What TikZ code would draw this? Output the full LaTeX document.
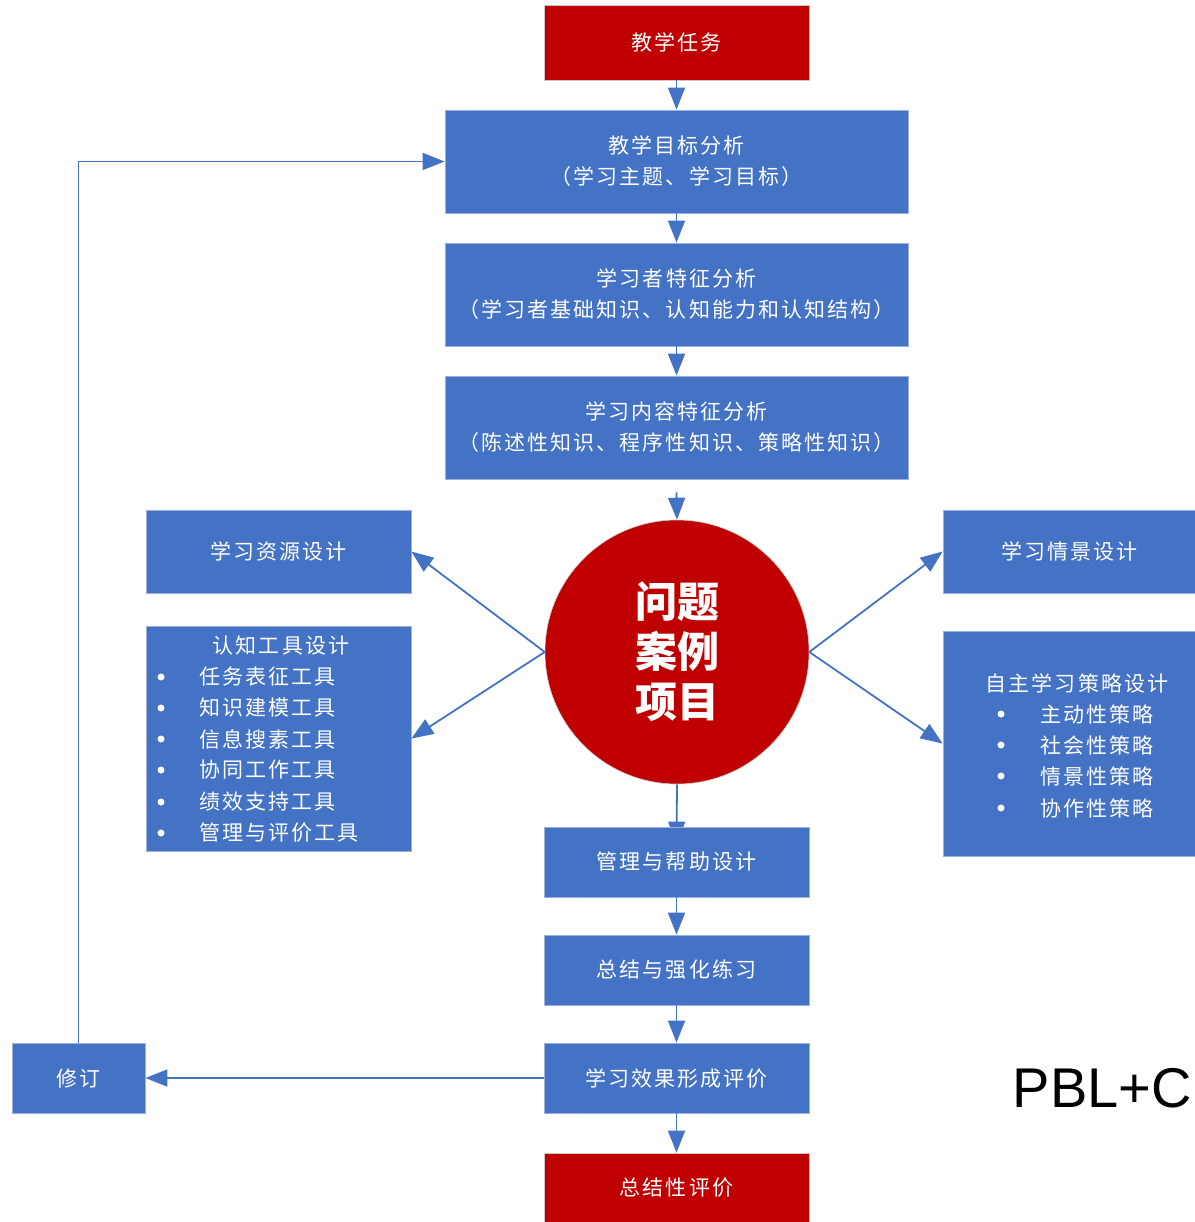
\documentclass[tikz,border=0pt]{standalone}
\usepackage{fontspec}
\setmainfont{Liberation Sans}
\newfontfamily\cjk[LetterSpace=10]{Noto Sans CJK SC}
\newfontfamily\cjkplain{Noto Sans CJK SC}
\usetikzlibrary{arrows.meta,calc,backgrounds}
\definecolor{boxblue}{HTML}{4472C4}
\definecolor{boxred}{HTML}{C00000}
\definecolor{edgeblue}{HTML}{9DB0D8}
\definecolor{edgegray}{HTML}{C8C8C8}
\tikzset{
  bluebox/.style={rectangle, fill=boxblue, draw=edgeblue, line width=0.8pt, text=white, align=center, inner sep=0pt,
    font=\cjk\fontsize{21}{31}\selectfont},
  redbox/.style={bluebox, fill=boxred, draw=edgegray},
  itemtxt/.style={text=white, inner sep=0pt, font=\cjk\fontsize{21}{31}\selectfont},
  conn/.style={draw=boxblue, line width=1.8pt, -{Triangle[length=22pt,width=17pt]}},
  bul/.style={fill=white}
}
\begin{document}
\begin{tikzpicture}[x=1pt,y=-1pt]
\useasboundingbox (0,0) rectangle (1194,1222);
% main column
\node[redbox, minimum width=265pt, minimum height=75pt] (task) at (676.5,42.5) {教学任务};
\node[bluebox, minimum width=463pt, minimum height=103pt] (goal) at (676.5,161.5) {教学目标分析\\（学习主题、学习目标）};
\node[bluebox, minimum width=463pt, minimum height=103pt] (learner) at (676.5,294.5) {学习者特征分析\\（学习者基础知识、认知能力和认知结构）};
\node[bluebox, minimum width=463pt, minimum height=103pt] (content) at (676.5,427.5) {学习内容特征分析\\（陈述性知识、程序性知识、策略性知识）};
\node[circle, fill=boxred, draw=edgegray, line width=0.6pt, minimum size=264pt, inner sep=0pt, text=white, align=center,
  font=\cjkplain\bfseries\fontsize{42}{50}\selectfont] (core) at (677,652) {问题\\案例\\项目};
% side boxes
\node[bluebox, minimum width=265pt, minimum height=83pt] (res) at (278.5,551.5) {学习资源设计};
\node[bluebox, minimum width=265pt, minimum height=225pt] (tool) at (278.5,738.5) {};
\node[bluebox, minimum width=253pt, minimum height=83pt] (scene) at (1069.5,551.5) {学习情景设计};
\node[bluebox, minimum width=253pt, minimum height=225pt] (strat) at (1069.5,743.5) {};
% lower column
\node[bluebox, minimum width=265pt, minimum height=70pt] (mgmt) at (676.5,862) {管理与帮助设计};
\node[bluebox, minimum width=265pt, minimum height=70pt] (summ) at (676.5,970) {总结与强化练习};
\node[bluebox, minimum width=265pt, minimum height=70pt] (form) at (676.5,1078) {学习效果形成评价};
\node[redbox, minimum width=265pt, minimum height=70pt] (final) at (676.5,1188) {总结性评价};
\node[bluebox, minimum width=133pt, minimum height=70pt] (rev) at (78.5,1078) {修订};
% tool list
\node[itemtxt] (tooltitle) at (281,646) {认知工具设计};
\node[itemtxt, anchor=west] (t1) at (199,677) {任务表征工具};
\node[itemtxt, anchor=west] (t2) at (199,708) {知识建模工具};
\node[itemtxt, anchor=west] (t3) at (199,739) {信息搜素工具};
\node[itemtxt, anchor=west] (t4) at (199,770) {协同工作工具};
\node[itemtxt, anchor=west] (t5) at (199,802) {绩效支持工具};
\node[itemtxt, anchor=west] (t6) at (199,833) {管理与评价工具};
\foreach \yy in {677,708,739,770,802,833} \fill[bul] (161,\yy) circle (3.5pt);
% strategy list
\node[itemtxt] (strattitle) at (1077,683) {自主学习策略设计};
\node[itemtxt, anchor=west] (s1) at (1040,714) {主动性策略};
\node[itemtxt, anchor=west] (s2) at (1040,745) {社会性策略};
\node[itemtxt, anchor=west] (s3) at (1040,776) {情景性策略};
\node[itemtxt, anchor=west] (s4) at (1040,808) {协作性策略};
\foreach \yy in {714,745,776,808} \fill[bul] (1001,\yy) circle (3.5pt);
% label
\node[anchor=base east, inner sep=0pt, font=\fontsize{56}{60}\selectfont] (pbl) at (1192,1107) {PBL+C};
% connectors
\draw[conn] (task) -- (goal);
\draw[conn] (goal) -- (learner);
\draw[conn] (learner) -- (content);
\draw[conn] ($(content.south)+(0,13)$) -- (core.north);
\draw[conn] (core.west) -- (res.east);
\draw[conn] (core.west) -- (tool.east);
\draw[conn] (core.east) -- (scene.west);
\draw[conn] (core.east) -- (strat.west);
\begin{scope}[on background layer]
\draw[conn] (core.south) -- ($(mgmt.north)+(0,17)$);
\end{scope}
\draw[conn] (mgmt) -- (summ);
\draw[conn] (summ) -- (form);
\draw[conn] (form) -- (final);
\draw[conn] (form) -- (rev);
\draw[conn] (rev.north) |- (goal.west);
\end{tikzpicture}
\end{document}
